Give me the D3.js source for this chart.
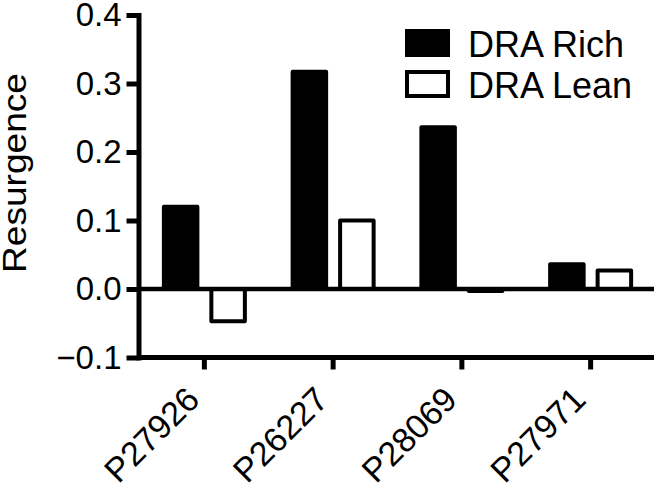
<!DOCTYPE html>
<html>
<head>
<meta charset="utf-8">
<script src="https://cdn.jsdelivr.net/npm/d3@7"></script>
<style>
  body { margin: 0; background: #fff; }
  text { font-family: "Liberation Sans", Arial, sans-serif; fill: #000; }
</style>
</head>
<body>
<svg width="654" height="489"></svg>
<script>
// values
let samples = ['P27926', 'P26227', 'P28069', 'P27971']
let series = ['DRA Rich', 'DRA Lean']
let richValues = [0.120, 0.317, 0.236, 0.036]
let leanValues = [-0.047, 0.100, -0.003, 0.027]
let yTicks = [-0.1, 0.0, 0.1, 0.2, 0.3, 0.4]

let svg = d3.select('svg')
let plotLeft = 138.5, plotRight = 654, plotTop = 15, plotBottom = 357.5
let stroke = 4
let axisStroke = 5

let x = d3.scaleBand().domain(samples).range([140, 655]).padding(0)
let xInner = d3.scaleBand().domain(series).range([-42.5, 42.5]).paddingInner(0.21)
let y = d3.scaleLinear().domain([-0.1, 0.4]).range([plotBottom, plotTop])

let rows = samples.map(function (s, i) {
  return [
    { sample: s, series: series[0], value: richValues[i], fill: '#000' },
    { sample: s, series: series[1], value: leanValues[i], fill: '#fff' }
  ]
})

// bars
let groups = svg.selectAll('g.sample').data(rows).enter().append('g')
  .attr('class', 'sample')
  .attr('transform', function (d) { return 'translate(' + (x(d[0].sample) + x.bandwidth() / 2) + ',0)' })

groups.selectAll('rect').data(function (d) { return d }).enter().append('rect')
  .attr('x', function (d) { return xInner(d.series) + stroke / 2 })
  .attr('width', xInner.bandwidth() - stroke)
  .attr('y', function (d) { return Math.min(y(d.value), y(0)) })
  .attr('height', function (d) { return Math.max(Math.abs(y(d.value) - y(0)), 0.5) })
  .attr('fill', function (d) { return d.fill })
  .attr('stroke', '#000')
  .attr('stroke-width', stroke)
  .attr('stroke-linejoin', 'round')

// zero line
svg.append('line')
  .attr('x1', plotLeft).attr('x2', plotRight)
  .attr('y1', y(0)).attr('y2', y(0))
  .attr('stroke', '#000').attr('stroke-width', 4.5)

// y axis
let yAxis = svg.append('g')
  .attr('transform', 'translate(' + plotLeft + ',0)')
  .call(d3.axisLeft(y).tickValues(yTicks).tickFormat(d3.format('.1f')).tickSize(12).tickSizeOuter(0).tickPadding(5))
yAxis.select('.domain').attr('stroke-width', axisStroke).attr('stroke-linecap', 'square')
yAxis.selectAll('.tick line').attr('stroke-width', axisStroke)
yAxis.selectAll('.tick text').attr('font-size', 33).attr('font-family', '"Liberation Sans", Arial, sans-serif')

// x axis
let xAxis = svg.append('g')
  .attr('transform', 'translate(0,' + plotBottom + ')')
  .call(d3.axisBottom(x).tickSize(12).tickSizeOuter(0))
xAxis.select('.domain').attr('d', 'M' + plotLeft + ',0H' + plotRight).attr('stroke-width', axisStroke)
xAxis.selectAll('.tick line').attr('stroke-width', axisStroke)
xAxis.selectAll('.tick text')
  .attr('font-size', 34)
  .attr('font-family', '"Liberation Sans", Arial, sans-serif')
  .attr('text-anchor', 'end')
  .attr('dy', null)
  .attr('y', null)
  .attr('transform', 'translate(-3,44) rotate(-45)')

// y title
svg.append('text')
  .attr('transform', 'translate(26,173) rotate(-90)')
  .attr('text-anchor', 'middle')
  .attr('font-size', 34)
  .attr('textLength', 200)
  .attr('lengthAdjust', 'spacingAndGlyphs')
  .text('Resurgence')

// legend
let legend = svg.selectAll('g.legend').data(series).enter().append('g')
  .attr('class', 'legend')
  .attr('transform', function (d, i) { return 'translate(405,' + (29 + i * 41) + ')' })
legend.append('rect')
  .attr('x', stroke / 2).attr('y', stroke / 2)
  .attr('width', 45 - stroke).attr('height', 28 - stroke)
  .attr('fill', function (d, i) { return i === 0 ? '#000' : '#fff' })
  .attr('stroke', '#000').attr('stroke-width', stroke)
legend.append('text')
  .attr('x', 63).attr('y', 28)
  .attr('font-size', 36)
  .text(function (d) { return d })
</script>
</body>
</html>
